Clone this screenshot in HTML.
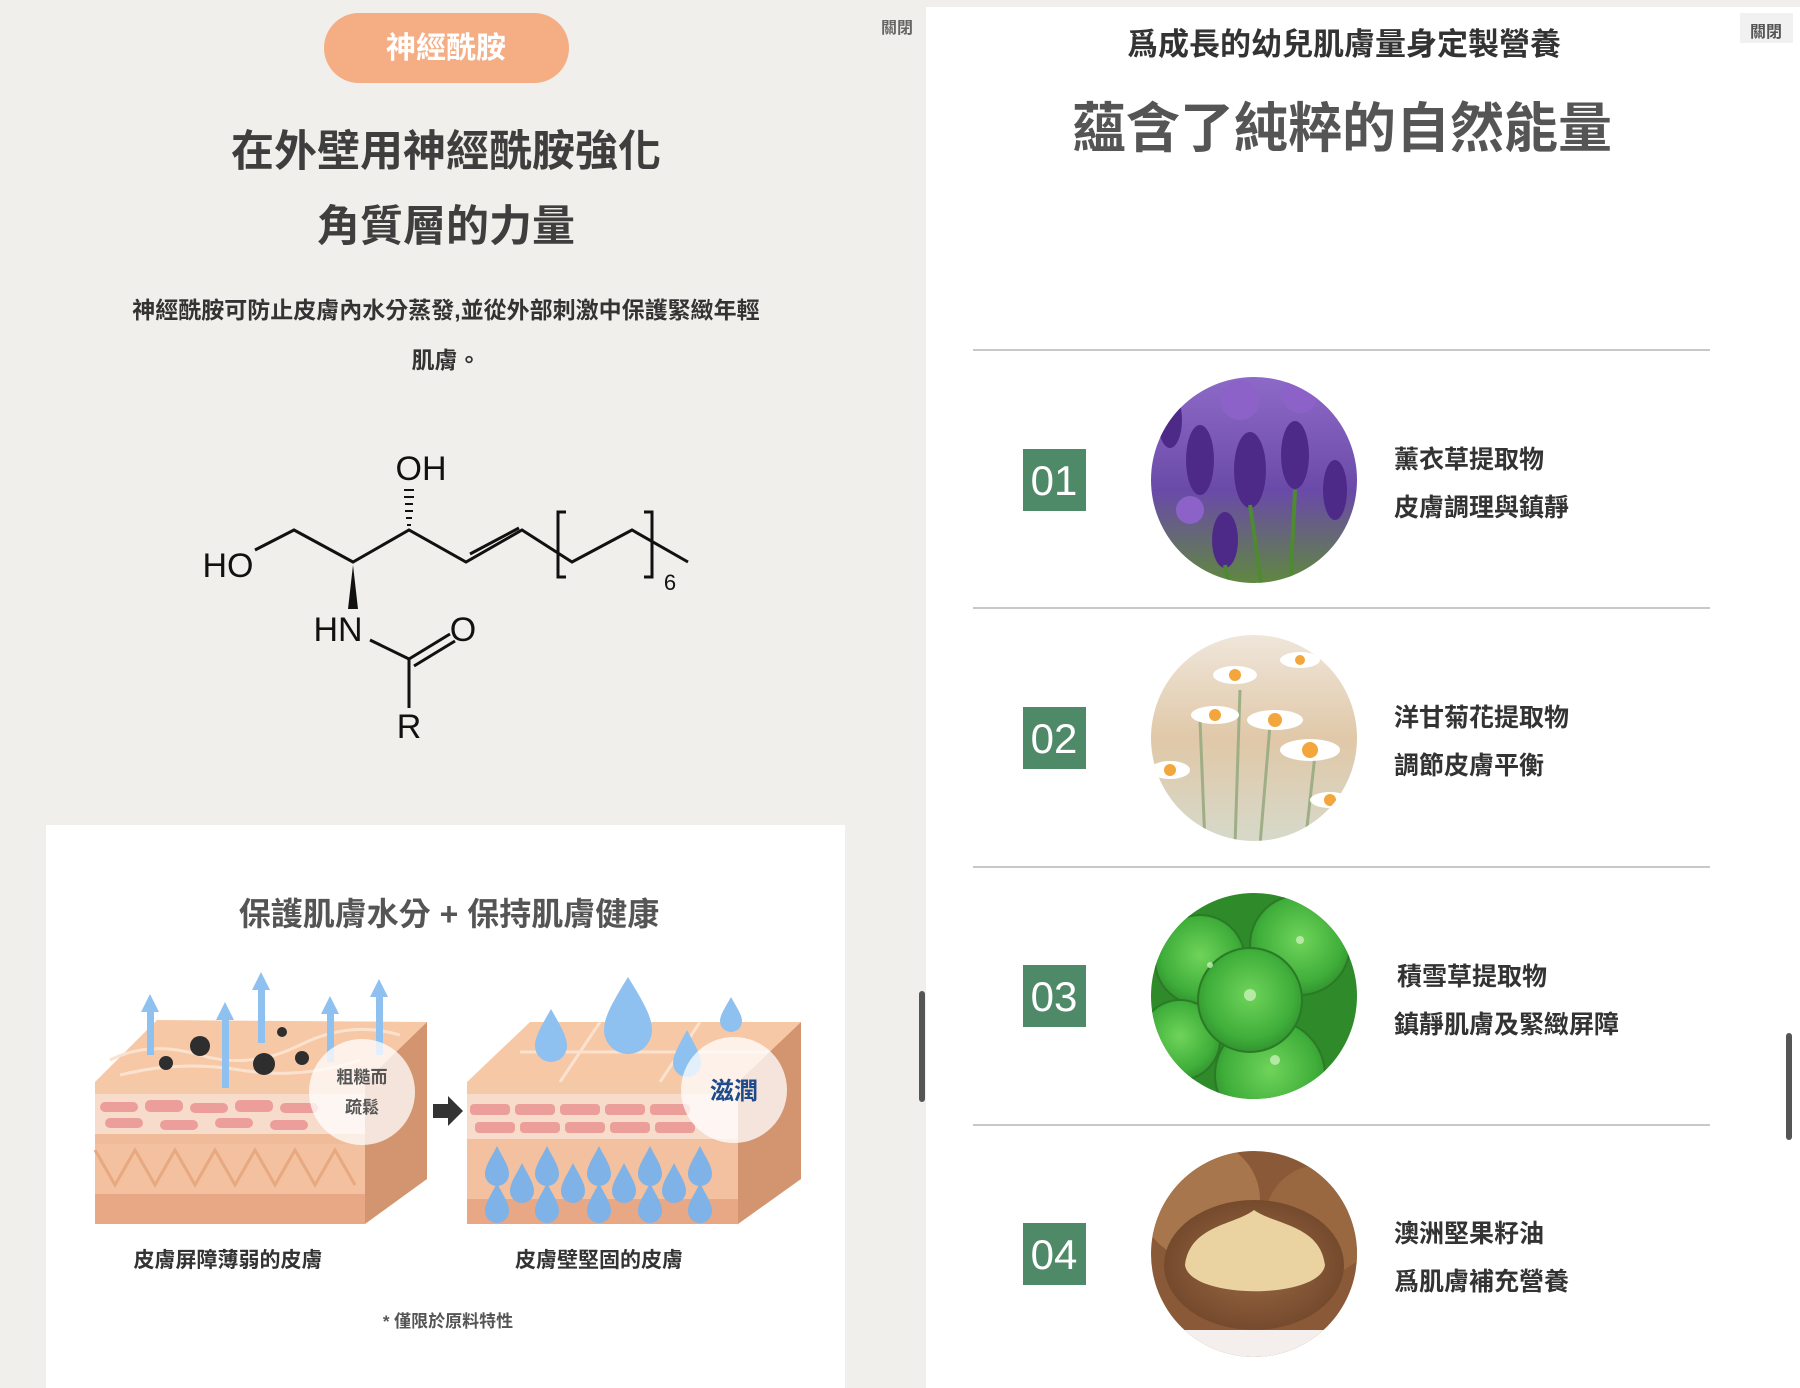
<!DOCTYPE html>
<html><head><meta charset="utf-8">
<style>
html,body{margin:0;padding:0;width:1800px;height:1388px;overflow:hidden;background:#f1efeb;}
svg{display:block}
text{font-family:"Liberation Sans","Noto Sans CJK TC",sans-serif;}
.cjk{font-family:"Liberation Sans","Noto Sans CJK TC",sans-serif;font-weight:700;}
</style></head><body>
<svg width="1800" height="1388" viewBox="0 0 1800 1388" xmlns="http://www.w3.org/2000/svg">
<defs>
<linearGradient id="lavbg" x1="0" y1="0" x2="0" y2="1"><stop offset="0" stop-color="#8e6ac8"/><stop offset="0.55" stop-color="#6a4aa8"/><stop offset="1" stop-color="#5f8a3c"/></linearGradient>
<linearGradient id="daisy" x1="0" y1="0" x2="0" y2="1"><stop offset="0" stop-color="#efe6da"/><stop offset="0.5" stop-color="#e0c8a8"/><stop offset="1" stop-color="#d6dacb"/></linearGradient>
<radialGradient id="leaf" cx="50%" cy="45%" r="60%"><stop offset="0" stop-color="#6fd45a"/><stop offset="0.7" stop-color="#3fae3a"/><stop offset="1" stop-color="#2e8a2c"/></radialGradient>
<radialGradient id="nut" cx="50%" cy="50%" r="60%"><stop offset="0" stop-color="#9a6a45"/><stop offset="1" stop-color="#6e4428"/></radialGradient>
<clipPath id="c1"><circle cx="1254" cy="480" r="103"/></clipPath>
<clipPath id="c2"><circle cx="1254" cy="738" r="103"/></clipPath>
<clipPath id="c3"><circle cx="1254" cy="996" r="103"/></clipPath>
<clipPath id="c4"><circle cx="1254" cy="1254" r="103"/></clipPath>
<g id="drop"><path d="M0,-22 C6,-10 12,-2 12,6 A12,12 0 0 1 -12,6 C-12,-2 -6,-10 0,-22Z"/></g>
</defs>

<rect x="0" y="0" width="925" height="1388" fill="#f1efeb"/>
<rect x="324" y="13" width="245" height="70" rx="35" fill="#f5ad84"/>
<text x="446" y="58" font-size="30" fill="#fff" text-anchor="middle" class="cjk">神經酰胺</text>
<text x="897" y="33" font-size="16" fill="#666" text-anchor="middle" class="cjk">關閉</text>
<text x="446" y="166" font-size="43" fill="#3e3e3e" text-anchor="middle" class="cjk">在外壁用神經酰胺強化</text>
<text x="446" y="241" font-size="43" fill="#3e3e3e" text-anchor="middle" class="cjk">角質層的力量</text>
<text x="446" y="318" font-size="23" fill="#333" text-anchor="middle" class="cjk">神經酰胺可防止皮膚內水分蒸發,並從外部刺激中保護緊緻年輕</text>
<text x="446" y="368" font-size="23" fill="#333" text-anchor="middle" class="cjk">肌膚。</text>

<g stroke="#111" stroke-width="3" fill="none">
<polyline points="255,550 294,530 353,562 409,530 466,562 522,530 572,562 632,530 688,562"/>
<line x1="470" y1="554" x2="519" y2="528"/>
<path d="M566,512 H558 V577 H566 M644,512 H652 V577 H644"/>
<line x1="370" y1="640" x2="409" y2="659"/>
<line x1="409" y1="659" x2="450" y2="634"/>
<line x1="414" y1="666" x2="455" y2="641"/>
<line x1="409" y1="659" x2="409" y2="708"/>
</g>
<polygon points="353,565 348,609 358,609" fill="#111"/>
<g stroke="#111" stroke-width="2">
<line x1="407" y1="525" x2="411" y2="525"/><line x1="406" y1="518" x2="412" y2="518"/><line x1="405" y1="511" x2="413" y2="511"/><line x1="405" y1="504" x2="413" y2="504"/><line x1="404" y1="497" x2="414" y2="497"/><line x1="404" y1="490" x2="414" y2="490"/>
</g>
<g font-size="34" fill="#111" text-anchor="middle">
<text x="228" y="577">HO</text>
<text x="421" y="480">OH</text>
<text x="338" y="641">HN</text>
<text x="463" y="641">O</text>
<text x="409" y="738">R</text>
</g>
<text x="670" y="590" font-size="22" fill="#111" text-anchor="middle">6</text>

<rect x="46" y="825" width="799" height="563" fill="#fff"/>
<text x="449" y="925" font-size="32" fill="#555" text-anchor="middle" class="cjk">保護肌膚水分 + 保持肌膚健康</text>

<polygon points="95,1082 157,1020 427,1022 365,1082" fill="#f6c8a6"/>
<path d="M110,1060 Q150,1040 200,1055 T300,1045 T400,1035" stroke="#fbe2cf" stroke-width="3" fill="none"/>
<path d="M120,1075 Q180,1060 240,1070 T360,1060" stroke="#fbe2cf" stroke-width="3" fill="none"/>
<polygon points="365,1082 427,1022 427,1179 365,1224" fill="#d39470"/>
<rect x="95" y="1082" width="270" height="12" fill="#f4c9a8"/>
<rect x="95" y="1094" width="270" height="40" fill="#f8dccb"/>
<g fill="#ec9e9a"><rect x="100" y="1102" width="38" height="10" rx="5"/><rect x="145" y="1100" width="38" height="12" rx="5"/><rect x="190" y="1103" width="38" height="10" rx="5"/><rect x="235" y="1100" width="38" height="12" rx="5"/><rect x="280" y="1103" width="38" height="10" rx="5"/><rect x="105" y="1118" width="38" height="10" rx="5"/><rect x="160" y="1120" width="38" height="10" rx="5"/><rect x="215" y="1118" width="38" height="10" rx="5"/><rect x="270" y="1120" width="38" height="10" rx="5"/></g>
<rect x="95" y="1134" width="270" height="10" fill="#f0bb98"/>
<rect x="95" y="1144" width="270" height="50" fill="#f3c19f"/>
<path d="M95,1150 L115,1185 L135,1150 L155,1185 L175,1150 L195,1185 L215,1150 L235,1185 L255,1150 L275,1185 L295,1150 L315,1185 L335,1150 L355,1185" stroke="#e8a880" stroke-width="3" fill="none"/>
<rect x="95" y="1194" width="270" height="30" fill="#e8a885"/>
<g fill="#8ec1f0">
<rect x="147" y="1010" width="7" height="45"/><polygon points="141,1012 150,994 159,1012"/>
<rect x="222" y="1018" width="7" height="70"/><polygon points="216,1020 225,1002 234,1020"/>
<rect x="258" y="988" width="7" height="55"/><polygon points="252,990 261,972 270,990"/>
<rect x="327" y="1012" width="7" height="50"/><polygon points="321,1014 330,996 339,1014"/>
<rect x="376" y="995" width="7" height="60"/><polygon points="370,997 379,979 388,997"/>
</g>
<g fill="#2e2e2e">
<circle cx="200" cy="1046" r="10"/><circle cx="166" cy="1063" r="7"/><circle cx="264" cy="1064" r="11"/><circle cx="302" cy="1058" r="7"/><circle cx="282" cy="1032" r="5"/>
</g>
<circle cx="362" cy="1092" r="53" fill="#fff" opacity="0.75"/>
<text x="362" y="1083" font-size="17" fill="#555" text-anchor="middle" class="cjk">粗糙而</text>
<text x="362" y="1113" font-size="17" fill="#555" text-anchor="middle" class="cjk">疏鬆</text>

<polygon points="433,1104 448,1104 448,1096 463,1111 448,1126 448,1118 433,1118" fill="#333"/>

<polygon points="467,1082 530,1022 801,1022 738,1082" fill="#f6c8a6"/>
<path d="M520,1052 L780,1052 M600,1022 L560,1082 M700,1022 L660,1082" stroke="#fbe2cf" stroke-width="3" fill="none"/>
<polygon points="738,1082 801,1022 801,1179 738,1224" fill="#d39470"/>
<rect x="467" y="1082" width="271" height="12" fill="#f4c9a8"/>
<rect x="467" y="1094" width="271" height="45" fill="#f8dccb"/>
<g fill="#ec9e9a"><rect x="470" y="1104" width="40" height="11" rx="4"/><rect x="515" y="1104" width="40" height="11" rx="4"/><rect x="560" y="1104" width="40" height="11" rx="4"/><rect x="605" y="1104" width="40" height="11" rx="4"/><rect x="650" y="1104" width="40" height="11" rx="4"/><rect x="475" y="1122" width="40" height="11" rx="4"/><rect x="520" y="1122" width="40" height="11" rx="4"/><rect x="565" y="1122" width="40" height="11" rx="4"/><rect x="610" y="1122" width="40" height="11" rx="4"/><rect x="655" y="1122" width="40" height="11" rx="4"/></g>
<rect x="467" y="1139" width="271" height="60" fill="#f3c19f"/>
<rect x="467" y="1199" width="271" height="25" fill="#e8a885"/>
<g fill="#7fb2e6">
<use href="#drop" x="497" y="1168"/><use href="#drop" x="547" y="1168"/><use href="#drop" x="599" y="1168"/><use href="#drop" x="650" y="1168"/><use href="#drop" x="700" y="1168"/>
<use href="#drop" x="522" y="1185"/><use href="#drop" x="573" y="1185"/><use href="#drop" x="624" y="1185"/><use href="#drop" x="674" y="1185"/>
<use href="#drop" x="497" y="1205"/><use href="#drop" x="547" y="1205"/><use href="#drop" x="599" y="1205"/><use href="#drop" x="650" y="1205"/><use href="#drop" x="700" y="1205"/>
</g>
<g fill="#8ec1f0">
<path d="M551,1009 C560,1025 567,1036 567,1046 A16,16 0 0 1 535,1046 C535,1036 542,1025 551,1009Z"/>
<path d="M628,977 C642,1000 652,1016 652,1030 A24,24 0 0 1 604,1030 C604,1016 614,1000 628,977Z"/>
<path d="M731,997 C737,1008 742,1015 742,1021 A11,11 0 0 1 720,1021 C720,1015 725,1008 731,997Z"/>
<path d="M687,1030 C695,1045 701,1055 701,1063 A14,14 0 0 1 673,1063 C673,1055 679,1045 687,1030Z"/>
</g>
<circle cx="734" cy="1090" r="53" fill="#fff" opacity="0.75"/>
<text x="734" y="1099" font-size="24" fill="#1f4b8a" text-anchor="middle" class="cjk">滋潤</text>

<text x="228" y="1267" font-size="21" fill="#333" text-anchor="middle" class="cjk">皮膚屏障薄弱的皮膚</text>
<text x="599" y="1267" font-size="21" fill="#333" text-anchor="middle" class="cjk">皮膚壁堅固的皮膚</text>
<text x="448" y="1327" font-size="17" fill="#555" text-anchor="middle" class="cjk">* 僅限於原料特性</text>

<rect x="919" y="991" width="6" height="111" rx="3" fill="#555"/>

<rect x="926" y="7" width="874" height="1381" fill="#fff"/>
<rect x="926" y="0" width="874" height="7" fill="#f1efeb"/>
<rect x="1740" y="13" width="53" height="30" fill="#f1f1f1"/>
<text x="1766" y="37" font-size="16" fill="#555" text-anchor="middle" class="cjk">關閉</text>
<text x="1344" y="55" font-size="31" fill="#333" text-anchor="middle" class="cjk">爲成長的幼兒肌膚量身定製營養</text>
<text x="1342" y="147" font-size="54" fill="#555" text-anchor="middle" class="cjk">蘊含了純粹的自然能量</text>

<g stroke="#c8c8c8" stroke-width="2">
<line x1="973" y1="350" x2="1710" y2="350"/><line x1="973" y1="608" x2="1710" y2="608"/><line x1="973" y1="867" x2="1710" y2="867"/><line x1="973" y1="1125" x2="1710" y2="1125"/>
</g>

<g fill="#4e8a68">
<rect x="1023" y="449" width="63" height="62"/><rect x="1023" y="707" width="63" height="62"/><rect x="1023" y="965" width="63" height="62"/><rect x="1023" y="1223" width="63" height="62"/>
</g>
<g fill="#fff" font-size="42" text-anchor="middle">
<text x="1054" y="495">01</text><text x="1054" y="753">02</text><text x="1054" y="1011">03</text><text x="1054" y="1269">04</text>
</g>

<g clip-path="url(#c1)">
<rect x="1150" y="376" width="210" height="210" fill="url(#lavbg)"/>
<g fill="#4d2a88">
<ellipse cx="1200" cy="460" rx="14" ry="35"/><ellipse cx="1250" cy="470" rx="16" ry="38"/><ellipse cx="1295" cy="455" rx="14" ry="34"/><ellipse cx="1335" cy="490" rx="12" ry="30"/><ellipse cx="1170" cy="420" rx="12" ry="28"/><ellipse cx="1225" cy="540" rx="13" ry="28"/>
</g>
<g fill="#8c62c8"><circle cx="1240" cy="400" r="20"/><circle cx="1300" cy="395" r="18"/><circle cx="1190" cy="510" r="14"/></g>
<g stroke="#4e8a32" stroke-width="4"><line x1="1250" y1="505" x2="1262" y2="590"/><line x1="1295" y1="490" x2="1290" y2="590"/><line x1="1225" y1="565" x2="1230" y2="590"/></g>
</g>
<g clip-path="url(#c2)">
<rect x="1150" y="635" width="210" height="210" fill="url(#daisy)"/>
<g stroke="#9fae86" stroke-width="3"><line x1="1200" y1="720" x2="1205" y2="845"/><line x1="1270" y1="725" x2="1260" y2="845"/><line x1="1315" y1="755" x2="1305" y2="845"/><line x1="1240" y1="690" x2="1235" y2="845"/></g>
<g fill="#fff"><ellipse cx="1275" cy="720" rx="28" ry="10"/><ellipse cx="1310" cy="750" rx="30" ry="11"/><ellipse cx="1215" cy="715" rx="24" ry="9"/><ellipse cx="1235" cy="675" rx="22" ry="9"/><ellipse cx="1300" cy="660" rx="20" ry="8"/><ellipse cx="1170" cy="770" rx="20" ry="9"/><ellipse cx="1330" cy="800" rx="20" ry="8"/></g>
<g fill="#f2a63c"><circle cx="1275" cy="720" r="7"/><circle cx="1310" cy="750" r="8"/><circle cx="1215" cy="715" r="6"/><circle cx="1235" cy="675" r="6"/><circle cx="1300" cy="660" r="5"/><circle cx="1170" cy="770" r="6"/><circle cx="1330" cy="800" r="6"/></g>
</g>
<g clip-path="url(#c3)">
<rect x="1150" y="893" width="210" height="210" fill="#2f8a2a"/>
<g fill="url(#leaf)" stroke="#2a7a26" stroke-width="2">
<circle cx="1200" cy="960" r="45"/><circle cx="1300" cy="945" r="50"/><circle cx="1180" cy="1040" r="40"/><circle cx="1270" cy="1075" r="55"/><circle cx="1250" cy="1000" r="52"/>
</g>
<g fill="#c8f0b8" opacity="0.8"><circle cx="1250" cy="995" r="6"/><circle cx="1300" cy="940" r="4"/><circle cx="1275" cy="1060" r="5"/><circle cx="1210" cy="965" r="3"/></g>
</g>
<g clip-path="url(#c4)">
<rect x="1150" y="1151" width="210" height="210" fill="#8a5a38"/>
<circle cx="1200" cy="1200" r="60" fill="#a8764c"/><circle cx="1320" cy="1220" r="55" fill="#9a6840"/>
<ellipse cx="1254" cy="1265" rx="90" ry="65" fill="url(#nut)"/>
<path d="M1185,1265 C1190,1225 1235,1225 1254,1210 C1275,1225 1320,1225 1325,1265 C1320,1300 1190,1300 1185,1265Z" fill="#ead3a0"/>
<rect x="1150" y="1330" width="210" height="31" fill="#f4efec"/>
</g>

<g font-size="25" fill="#333" class="cjk">
<text x="1394" y="468">薰衣草提取物</text><text x="1394" y="516">皮膚調理與鎮靜</text>
<text x="1394" y="726">洋甘菊花提取物</text><text x="1394" y="774">調節皮膚平衡</text>
<text x="1397" y="985">積雪草提取物</text><text x="1394" y="1033">鎮靜肌膚及緊緻屏障</text>
<text x="1394" y="1242">澳洲堅果籽油</text><text x="1394" y="1290">爲肌膚補充營養</text>
</g>

<rect x="1786" y="1033" width="6" height="107" rx="3" fill="#555"/>
</svg>
</body></html>
